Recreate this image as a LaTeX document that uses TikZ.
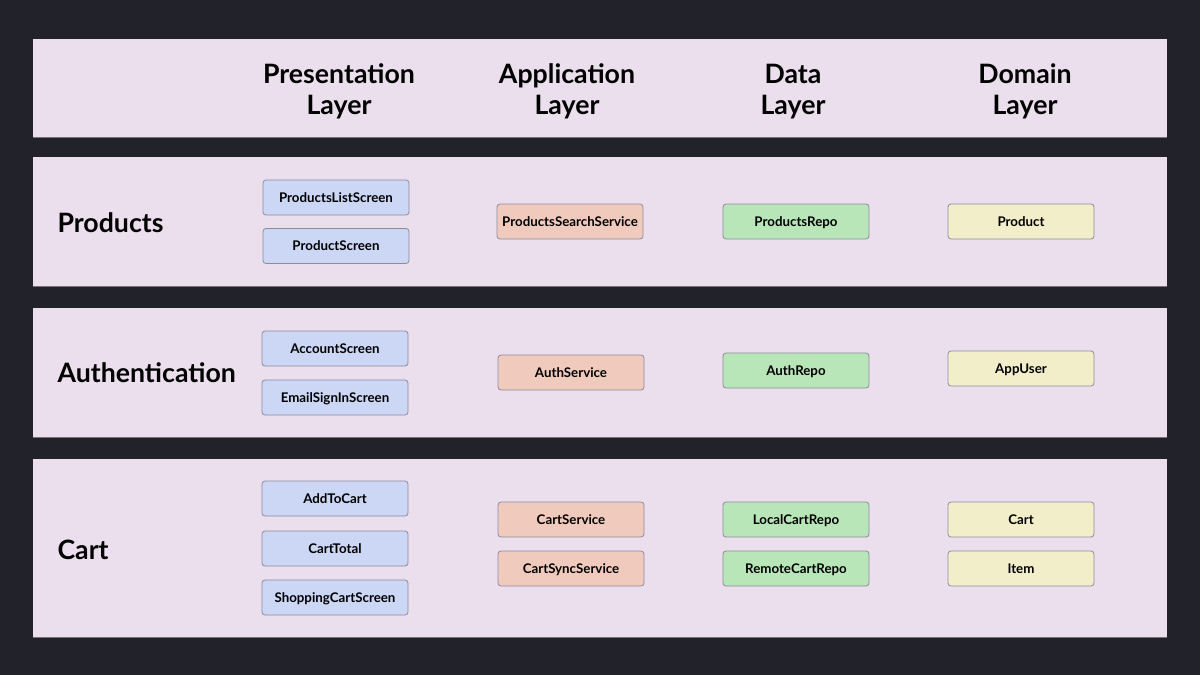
\documentclass[tikz,border=0pt]{standalone}
\usepackage{fontspec}
\setmainfont{Lato}
\definecolor{bgdark}{HTML}{22222A}
\definecolor{panelbg}{HTML}{EBDEED}
\definecolor{panelline}{HTML}{77727A}
\definecolor{boxline}{HTML}{8C8C9E}
\definecolor{presfill}{HTML}{CCD6F5}
\definecolor{appfill}{HTML}{F0CBBD}
\definecolor{datafill}{HTML}{B8E6B8}
\definecolor{domfill}{HTML}{F3EECA}
\begin{document}
\begin{tikzpicture}[x=1pt, y=-1pt]
\tikzset{box/.style={rectangle, rounded corners=3pt, draw=boxline, line width=0.8pt,
    minimum width=146pt, minimum height=35pt, inner sep=0pt, text height=9.4pt, text depth=0pt,
    font=\fontsize{13.3}{15}\selectfont\bfseries},
pres/.style={box, fill=presfill},
app/.style={box, fill=appfill},
data/.style={box, fill=datafill},
dom/.style={box, fill=domfill},
layer/.style={align=center, font=\fontsize{26.7}{31}\selectfont\bfseries},
feature/.style={anchor=west, font=\fontsize{26.7}{30}\selectfont\bfseries}};

% background and panels
\fill[bgdark] (0,0) rectangle (1200,675);
\useasboundingbox (0,0) rectangle (1200,675);
\foreach \top/\bot in {39/137, 157/286, 308/437, 459/637} {
	\fill[panelbg] (33,\top) rectangle (1167,\bot);
	\draw[panelline, line width=0.6pt] (33,\bot) -- (1167,\bot);
}

% header
\node[layer] (pl) at (339, 91.5) {Presentation\\Layer};
\node[layer] (al) at (567, 91.5) {Application\\Layer};
\node[layer] (dl) at (793, 91.5) {Data\\Layer};
\node[layer] (ml) at (1025, 91.5) {Domain\\Layer};

% products
\node[feature] (products) at (54, 222.5) {Products};
\node[pres] (productslist) at (336, 197.5) {ProductsListScreen};
\node[pres] (productscreen) at (336, 246) {ProductScreen};
\node[app] (searchservice) at (570, 221.5) {ProductsSearchService};
\node[data] (productsrepo) at (796, 221.5) {ProductsRepo};
\node[dom] (product) at (1021, 221.5) {Product};

% authentication
\node[feature] (auth) at (54, 372.5) {Authentication};
\node[pres] (account) at (335, 348.5) {AccountScreen};
\node[pres] (emailsignin) at (335, 397.5) {EmailSignInScreen};
\node[app] (authservice) at (571, 372.5) {AuthService};
\node[data] (authrepo) at (796, 370.5) {AuthRepo};
\node[dom] (appuser) at (1021, 368.5) {AppUser};

% cart
\node[feature] (cart) at (54, 549.5) {Cart};
\node[pres] (addtocart) at (335, 498.5) {AddToCart};
\node[pres] (carttotal) at (335, 548.5) {CartTotal};
\node[pres] (shoppingcart) at (335, 597.5) {ShoppingCartScreen};
\node[app] (cartservice) at (571, 519.5) {CartService};
\node[app] (cartsync) at (571, 568.5) {CartSyncService};
\node[data] (localrepo) at (796, 519.5) {LocalCartRepo};
\node[data] (remoterepo) at (796, 568.5) {RemoteCartRepo};
\node[dom] (cartmodel) at (1021, 519.5) {Cart};
\node[dom] (item) at (1021, 568.5) {Item};

\end{tikzpicture}
\end{document}
